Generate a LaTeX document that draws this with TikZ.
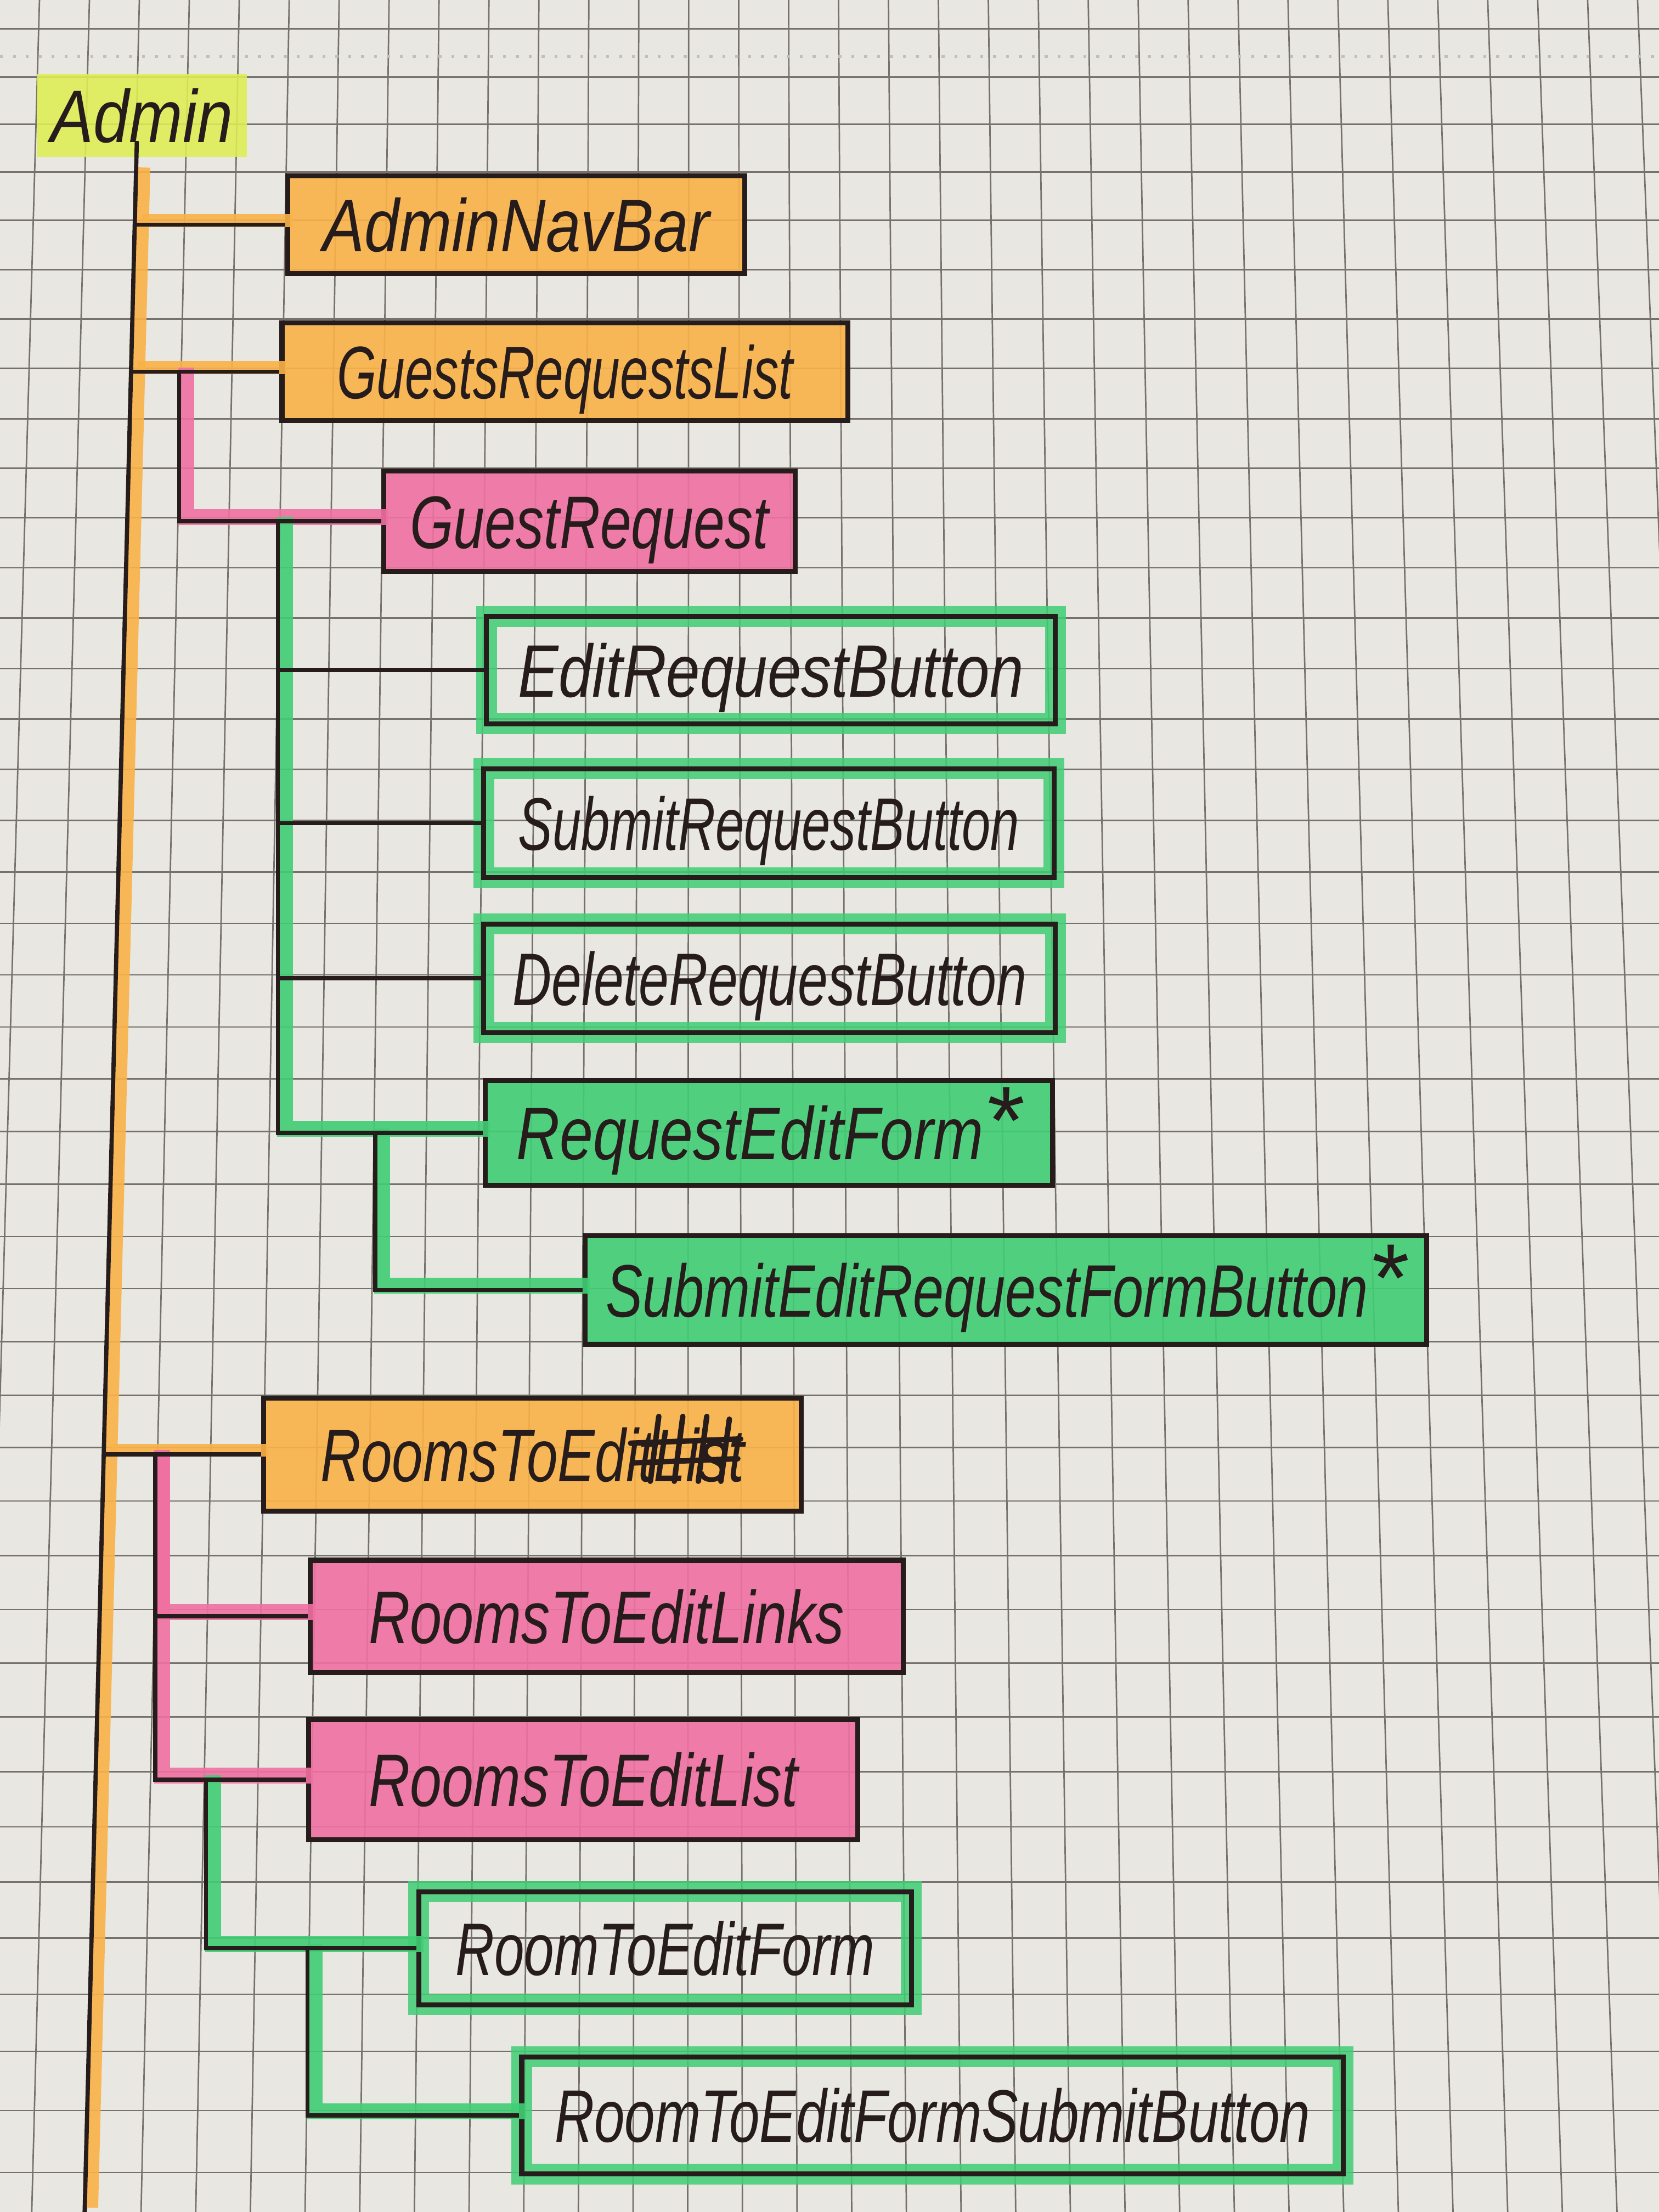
\documentclass[tikz,border=0pt]{standalone}
\usepackage{fontspec}
\setmainfont{Liberation Sans}
\usepackage{graphicx}
\definecolor{paper}{RGB}{233,231,225}
\definecolor{gridc}{RGB}{118,113,108}
\definecolor{ink}{RGB}{38,28,28}
\definecolor{hlorange}{RGB}{250,178,72}
\definecolor{hlpink}{RGB}{240,112,162}
\definecolor{hlgreen}{RGB}{64,206,116}
\definecolor{hlyellow}{RGB}{222,238,84}
\newcommand\hw[2]{\resizebox{#1}{\height}{#2}}
\begin{document}
\begin{tikzpicture}[x=0.01cm,y=-0.01cm,
  gridline/.style={draw=gridc,line width=0.3pt},
  lbl/.style={font=\fontsize{15}{18}\selectfont\itshape,text=ink,inner sep=0pt,text height=10.8pt,text depth=0pt},
  bx/.style 2 args={lbl,minimum width=#1,minimum height=#2},
  hbox/.style={draw=ink,line width=1pt,fill opacity=0.9,text opacity=1},
  obox/.style={hbox,fill=hlorange},
  pbox/.style={hbox,fill=hlpink},
  gbox/.style={hbox,fill=hlgreen},
  gframe/.style={draw=ink,line width=1pt,preaction={draw=hlgreen,line width=4.2pt,draw opacity=0.85}},
  conn/.style={draw=ink,line width=0.85pt},
  hl/.style={line width=3.2pt,draw opacity=0.9},
  hlo/.style={hl,draw=hlorange,line width=2.6pt},
  hlp/.style={hl,draw=hlpink},
  hlg/.style={hl,draw=hlgreen},
  scratch/.style={draw=ink,line width=1.1pt,line cap=round}
]
% paper
\fill[paper] (0,0) rectangle (1176,1568);
\useasboundingbox (0,0) rectangle (1176,1568);
\begin{scope}
  \clip (0,0) rectangle (1176,1568);
  \foreach \j in {-2,...,31}
    \draw[gridline] ({63.4+35.4*\j},0) -- ({22.5+38.75*\j},1568);
  \foreach \yy in {20.5,54.6,88,122,156,191,226,261,297,332,367,402.5,438,474,509.5,545.5,581.5,618,654.5,691,728,764.6,802,839.5,876.5,913.5,951,989,1026,1064,1102.6,1141,1179,1217,1256,1295,1334,1373.6,1413.6,1454,1496,1540}
    \draw[gridline] (0,\yy) -- (1176,\yy);
  \draw[gray!50,line width=0.6pt,dotted] (0,40) -- (1176,40);
\end{scope}

% boxes (nodes)
\node[bx={1.49cm}{0.585cm},fill=hlyellow,fill opacity=0.88,text opacity=1] (admin) at (100.5,81.75) {\hw{1.29cm}{Admin}};
\node[obox,bx={3.24cm}{0.695cm}] (nav) at (366,159.25) {\hw{2.74cm}{AdminNavBar}};
\node[obox,bx={4.01cm}{0.69cm}] (grl) at (400.5,263.5) {\hw{3.23cm}{GuestsRequestsList}\hspace{0.22cm}};
\node[pbox,bx={2.915cm}{0.71cm}] (gr) at (417.75,369.5) {\hw{2.54cm}{GuestRequest}};
\node[gframe,bx={4.03cm}{0.76cm}] (erb) at (546.5,475) {\hw{3.58cm}{EditRequestButton}};
\node[gframe,bx={4.04cm}{0.77cm}] (srb) at (545,583.5) {\hw{3.55cm}{SubmitRequestButton}};
\node[gframe,bx={4.05cm}{0.77cm}] (drb) at (545.5,693.5) {\hw{3.64cm}{DeleteRequestButton}};
\node[gbox,bx={4.02cm}{0.74cm}] (ref) at (545,803) {\hw{3.31cm}{RequestEditForm}\raisebox{0.04cm}{\scalebox{1.3}{*}}};
\node[gbox,bx={5.96cm}{0.77cm}] (serb) at (713,914.5) {\hw{5.40cm}{SubmitEditRequestFormButton}\raisebox{0.04cm}{\scalebox{1.3}{*}}};
\node[obox,bx={3.81cm}{0.80cm}] (rte) at (377.5,1031) {\hw{2.36cm}{RoomsToEdit}\hw{0.64cm}{List}\hspace{0.19cm}};
\node[pbox,bx={4.2cm}{0.795cm}] (rtel) at (430,1145.75) {\hw{3.37cm}{RoomsToEditLinks}\hspace{0.23cm}};
\node[pbox,bx={3.89cm}{0.85cm}] (rtelist) at (413.5,1261.5) {\hw{3.04cm}{RoomsToEditList}\hspace{0.14cm}};
\node[gframe,bx={3.49cm}{0.80cm}] (rtef) at (471.5,1381) {\hw{2.97cm}{RoomToEditForm}};
\node[gframe,bx={5.82cm}{0.83cm}] (rtefsb) at (661,1499.5) {\hw{5.35cm}{RoomToEditFormSubmitButton}\hspace{0.19cm}};

% struck-out "List"
\draw[scratch] (447,1023) -- (525,1020);
\draw[scratch] (449,1037) -- (523,1034);
\draw[scratch] (461,1050) -- (467,1004);
\draw[scratch] (478,1050) -- (484,1004);
\draw[scratch] (495,1050) -- (501,1004);
\draw[scratch] (511,1050) -- (517,1006);

% junction coordinates
\coordinate (a0) at (97,100);
\coordinate (aEnd) at (60,1568);
\coordinate (t1) at (95.5,159.25);
\coordinate (t2) at (92.9,263.5);
\coordinate (t3) at (73.5,1031);
\coordinate (g1) at (127,263.5);
\coordinate (g2) at (197,369.5);
\coordinate (g3) at (266,803);
\coordinate (g4) at (110,1031);
\coordinate (g5) at (146,1261.5);
\coordinate (g6) at (218,1381);

% highlighter strokes
\begin{scope}[transform canvas={xshift=0.05cm,yshift=0.03cm}]
  \draw[hlo] ([yshift=-0.1cm]admin.south -| a0) -- (aEnd);
  \draw[hlo] (t1) -- (nav.west);
  \draw[hlo] (t2) -- (grl.west);
  \draw[hlo] (t3) -- (rte.west);
  \draw[hlp] (g1) |- (gr.west);
  \draw[hlp] (g4) |- (rtel.west);
  \draw[hlp] (g4) |- (rtelist.west);
  \draw[hlg] (g2) |- (ref.west);
  \draw[hlg] (g3) |- (serb.west);
  \draw[hlg] (g5) |- (rtef.west);
  \draw[hlg] (g6) |- (rtefsb.west);
\end{scope}

% ink connectors
\draw[conn] (a0) -- (aEnd);
\draw[conn] (t1) -- (nav.west);
\draw[conn] (t2) -- (grl.west);
\draw[conn] (t3) -- (rte.west);
\draw[conn] (g1) |- (gr.west);
\draw[conn] (g2) |- (erb.west);
\draw[conn] (g2) |- (srb.west);
\draw[conn] (g2) |- (drb.west);
\draw[conn] (g2) |- (ref.west);
\draw[conn] (g3) |- (serb.west);
\draw[conn] (g4) |- (rtel.west);
\draw[conn] (g4) |- (rtelist.west);
\draw[conn] (g5) |- (rtef.west);
\draw[conn] (g6) |- (rtefsb.west);
\end{tikzpicture}
\end{document}
